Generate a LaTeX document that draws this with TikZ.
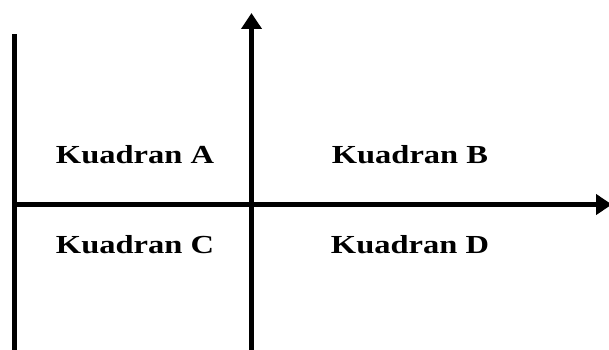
\documentclass[tikz,border=0pt]{standalone}
\usepackage{fontspec}
\setmainfont{Liberation Serif}
\usetikzlibrary{arrows.meta}

\begin{document}
\begin{tikzpicture}[x=1pt, y=1pt, line width=5.5pt, >={Triangle[length=16pt,width=20pt]}]
    \useasboundingbox (0,0) rectangle (609,349);
    \clip (0,0) rectangle (609,349);
    \coordinate (ltop) at (14.5,315);
    \coordinate (lbot) at (14.5,-3);
    \coordinate (hl) at (14.5,144.5);
    \coordinate (hr) at (612,144.5);
    \coordinate (vb) at (251.5,-3);
    \coordinate (vt) at (251.5,336);
    \draw (ltop) -- (lbot);
    \draw[->] (hl) -- (hr);
    \draw[->] (vb) -- (vt);
    \foreach \name/\x/\y/\label in {kA/135/194/A,kB/410/194/B,kC/135/104/C,kD/410/104/D}
      \node[font=\fontsize{26}{30}\selectfont\bfseries, xscale=1.25] (\name) at (\x,\y) {Kuadran \label};
  \end{tikzpicture}
\end{document}
